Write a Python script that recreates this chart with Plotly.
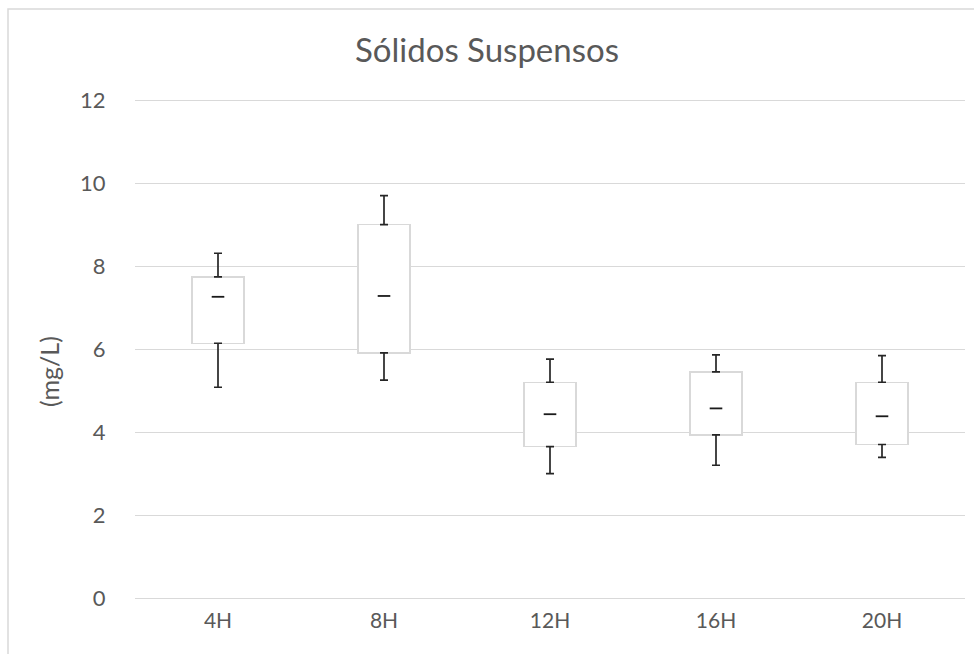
import plotly.graph_objects as go

# Five-number summaries of suspended solids per sampling time
categories = ["4H", "8H", "12H", "16H", "20H"]
minimum = [5.08, 5.25, 3.00, 3.20, 3.39]
q1 = [6.14, 5.91, 3.65, 3.93, 3.70]
median = [7.26, 7.28, 4.43, 4.57, 4.38]
q3 = [7.74, 9.00, 5.20, 5.45, 5.20]
maximum = [8.31, 9.70, 5.76, 5.86, 5.84]

box_height = [b - a for a, b in zip(q1, q3)]
upper_whisker = [m - b for b, m in zip(q3, maximum)]
lower_whisker = [a - m for a, m in zip(q1, minimum)]

TEXT = "#595959"
GRID = "#d9d9d9"
FONT = "Lato, Open Sans, sans-serif"

# plot-area geometry in pixels (axis runs slightly past 12 so its gridline is drawn)
L, R, T, B = 135, 9, 96, 56
W, H = 974, 654
PW, PH = W - L - R, H - T - B

fig = go.Figure()

# invisible base segment up to Q1
fig.add_trace(go.Bar(
    x=categories, y=q1, marker=dict(color="rgba(0,0,0,0)", line=dict(width=0)),
    hoverinfo="skip", showlegend=False,
))
# interquartile box
fig.add_trace(go.Bar(
    x=categories, y=box_height,
    marker=dict(color="white", line=dict(color=GRID, width=1.5)),
    showlegend=False,
))
# upper whiskers from Q3
fig.add_trace(go.Scatter(
    x=categories, y=q3, mode="markers", marker=dict(size=1, color="rgba(0,0,0,0)"),
    error_y=dict(type="data", symmetric=False, array=upper_whisker,
                 arrayminus=[0] * len(q3), color="#262626", thickness=1.7, width=4),
    showlegend=False,
))
# lower whiskers from Q1
fig.add_trace(go.Scatter(
    x=categories, y=q1, mode="markers", marker=dict(size=1, color="rgba(0,0,0,0)"),
    error_y=dict(type="data", symmetric=False, array=[0] * len(q1),
                 arrayminus=lower_whisker, color="#262626", thickness=1.7, width=4),
    showlegend=False,
))
# median marks
fig.add_trace(go.Scatter(
    x=categories, y=median, mode="markers",
    marker=dict(symbol="line-ew", size=9, line=dict(color="#1a1a1a", width=1.8)),
    showlegend=False,
))

# chart frame
fig.add_shape(type="rect", xref="paper", yref="paper",
              x0=(8 - L) / PW, x1=(990 - L) / PW,
              y0=(H - B - 670) / PH, y1=(H - B - 9) / PH,
              line=dict(color=GRID, width=1.5), fillcolor="rgba(0,0,0,0)", layer="below")

# y-axis title
fig.add_annotation(text="(mg/L)", xref="paper", yref="paper",
                   x=(49 - L) / PW, y=(H - B - 372) / PH,
                   xanchor="center", yanchor="middle", textangle=-90, showarrow=False,
                   font=dict(size=25, color=TEXT, family=FONT))

fig.update_layout(
    width=W, height=H,
    margin=dict(l=L, r=R, t=T, b=B),
    paper_bgcolor="white", plot_bgcolor="white",
    barmode="stack", bargap=0.687,
    font=dict(family=FONT, color=TEXT, size=20),
    title=dict(text="Sólidos Suspensos", x=0.5, xanchor="center",
               y=1 - 50 / H, yanchor="middle",
               font=dict(size=33, color=TEXT, family=FONT)),
    xaxis=dict(showgrid=False, showline=False, zeroline=False,
               tickfont=dict(size=21, color=TEXT), ticks="outside",
               ticklen=4, tickcolor="rgba(0,0,0,0)", range=[-0.5, 4.5]),
    yaxis=dict(range=[0, 12.1], tickvals=[0, 2, 4, 6, 8, 10, 12],
               showgrid=True, gridcolor=GRID, gridwidth=1.3,
               zeroline=True, zerolinecolor=GRID, zerolinewidth=1.3,
               showline=False, ticks="outside", ticklen=24,
               tickcolor="rgba(0,0,0,0)", tickfont=dict(size=22, color=TEXT)),
)

fig.write_html("out.html")
